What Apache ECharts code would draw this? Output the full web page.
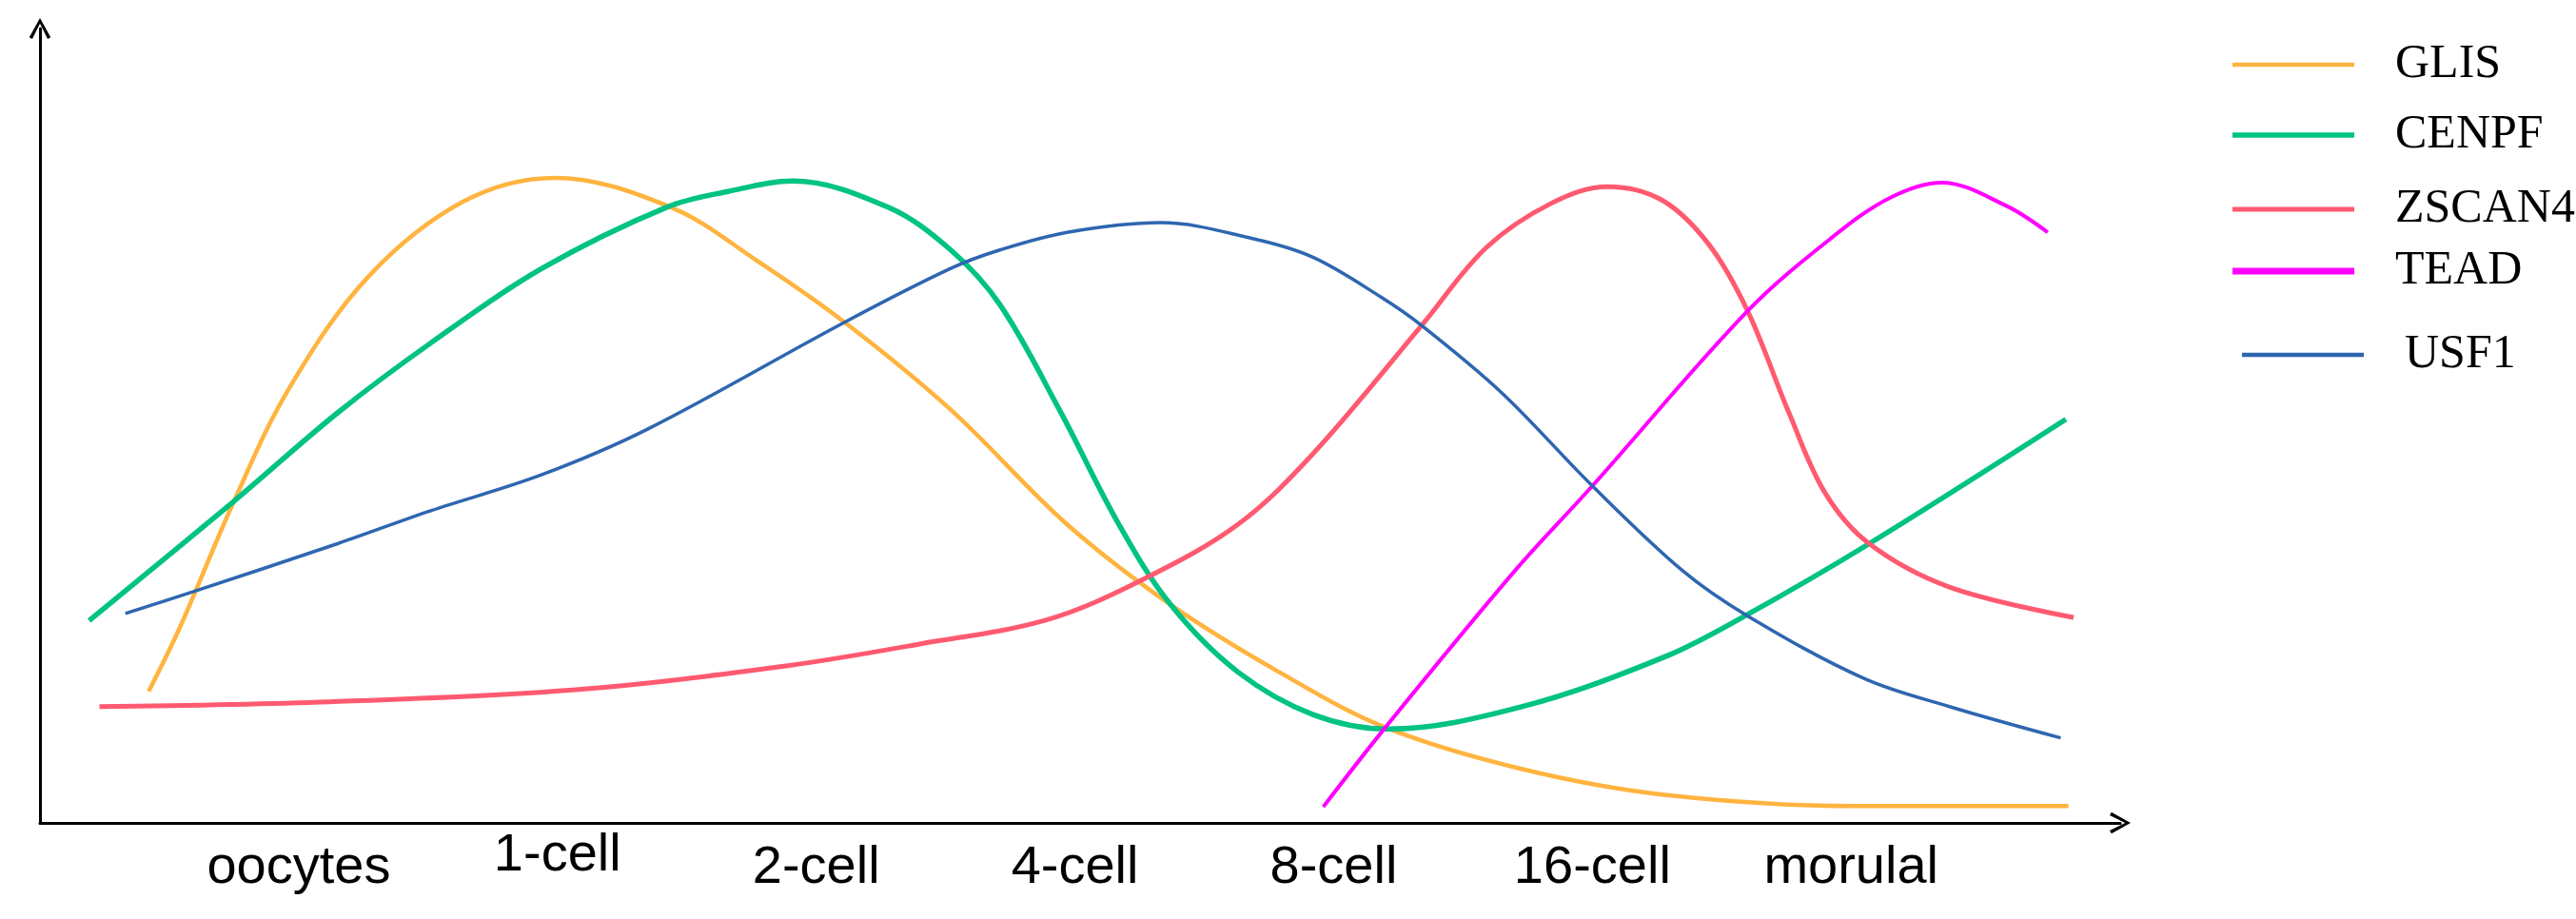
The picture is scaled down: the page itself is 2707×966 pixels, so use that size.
<!DOCTYPE html>
<html>
<head>
<meta charset="utf-8">
<script src="https://cdn.jsdelivr.net/npm/echarts@6/dist/echarts.min.js"></script>
<style>
  html, body { margin: 0; padding: 0; background: #fff; }
  #main { width: 2707px; height: 966px; }
</style>
</head>
<body>
<div id="main"></div>
<script>
// stages along the x axis (index 0..6)
var stages = ['oocytes', '1-cell', '2-cell', '4-cell', '8-cell', '16-cell', 'morulal'];

// [stage position, relative expression level]
var glis = [[-0.58,16.4],[-0.46,24.3],[-0.25,40.1],[-0.04,54.0],[0.27,68.1],[0.64,77.5],[0.99,80.4],[1.44,76.7],[1.77,70.1],[2.11,62.4],[2.52,51.5],[2.97,37.2],[3.37,27.2],[3.80,18.6],[4.20,11.9],[4.73,6.7],[5.28,3.5],[6.02,2.1],[6.84,2.1]];
var cenpf = [[-0.81,25.2],[-0.25,40.1],[0.15,51.1],[0.51,59.8],[0.94,69.1],[1.42,76.7],[1.66,78.7],[1.91,80.0],[2.28,76.7],[2.52,71.4],[2.71,64.6],[2.94,51.5],[3.17,37.2],[3.37,27.2],[3.63,18.8],[3.92,13.5],[4.21,11.7],[4.73,14.5],[5.28,20.7],[5.59,25.8],[6.07,34.8],[6.83,50.3]];
var zscan4 = [[-0.77,14.5],[0.12,15.1],[1.07,16.6],[1.89,19.6],[2.40,22.3],[2.89,25.3],[3.26,30.3],[3.63,37.2],[3.92,46.0],[4.34,62.0],[4.59,71.7],[4.84,77.2],[5.06,79.3],[5.27,77.6],[5.45,72.1],[5.60,63.8],[5.76,51.1],[5.90,41.1],[6.07,34.8],[6.38,29.4],[6.86,25.6]];
var tead = [[3.96,2.0],[4.20,11.9],[4.70,31.4],[5.00,42.0],[5.60,63.8],[5.92,72.8],[6.15,77.9],[6.35,79.8],[6.60,76.9],[6.76,73.6]];
var usf1 = [[-0.67,26.1],[-0.41,28.8],[0.15,34.8],[0.51,38.9],[0.94,43.4],[1.35,49.1],[2.11,62.4],[2.52,69.1],[2.71,71.4],[2.97,73.6],[3.33,74.8],[3.69,72.8],[3.92,70.5],[4.18,65.6],[4.34,62.0],[4.65,53.6],[5.00,42.0],[5.35,31.4],[5.60,25.8],[6.05,18.0],[6.38,14.5],[6.81,10.6]];

var geneNames = ['GLIS', 'CENPF', 'ZSCAN4', 'TEAD', 'USF1'];
var geneColors = ['#FFB43F', '#00C383', '#FF5A70', '#FF00FF', '#2E66B0'];
var geneWidths = [4.5, 5.5, 5, 4, 3.5];
var geneData = [glis, cenpf, zscan4, tead, usf1];

var chart = echarts.init(document.getElementById('main'));

// open chevron arrow head for the axes
var arrowPath = 'path://M0,9 L5,0 L10,9 L8.6,9.8 L5,2.6 L1.4,9.8 Z';

var legendTops = [43, 117, 195, 260, 348];
var legendLefts = [2346, 2346, 2346, 2346, 2356];
var legendIconH = [4.5, 5.5, 5, 7, 4.5];

var legends = geneNames.map(function (name, i) {
  return {
    data: [name],
    left: legendLefts[i],
    top: legendTops[i],
    padding: 0,
    icon: 'rect',
    itemWidth: 128,
    itemHeight: legendIconH[i],
    selectedMode: false,
    textStyle: {
      fontFamily: 'Liberation Serif',
      fontSize: 50,
      lineHeight: 50,
      color: '#000',
      padding: [0, 0, 0, 38]
    }
  };
});

var series = geneNames.map(function (name, i) {
  return {
    name: name,
    type: 'line',
    data: geneData[i],
    smooth: 0.35,
    showSymbol: false,
    symbol: 'none',
    color: geneColors[i],
    lineStyle: { color: geneColors[i], width: geneWidths[i] }
  };
});

var labelFont = { fontFamily: 'Liberation Sans', fontSize: 56, color: '#000' };

var option = {
  animation: false,
  backgroundColor: '#fff',
  legend: legends,
  grid: { left: 42, right: 479, top: 30, bottom: 101, containLabel: false },
  xAxis: {
    type: 'value',
    min: -1,
    max: 7.04,
    interval: 1,
    splitLine: { show: false },
    axisTick: { show: false },
    axisLine: {
      show: true,
      onZero: false,
      symbol: ['none', arrowPath],
      symbolSize: [23, 22],
      lineStyle: { color: '#000', width: 3 }
    },
    axisLabel: {
      margin: 20,
      fontFamily: 'Liberation Sans',
      fontSize: 56,
      color: '#000',
      formatter: function (v) {
        var k = Math.round(v);
        if (k < 0 || k >= stages.length) return '';
        // "1-cell" sits a little higher in the original
        return k === 1 ? '{hi|' + stages[k] + '}' : '{n|' + stages[k] + '}';
      },
      rich: {
        n: Object.assign({ lineHeight: 56 }, labelFont),
        hi: Object.assign({ lineHeight: 30 }, labelFont)
      }
    }
  },
  yAxis: {
    type: 'value',
    min: 0,
    max: 99,
    splitLine: { show: false },
    axisTick: { show: false },
    axisLabel: { show: false },
    axisLine: {
      show: true,
      onZero: false,
      symbol: ['none', arrowPath],
      symbolSize: [23, 22],
      lineStyle: { color: '#000', width: 3 }
    }
  },
  series: series
};

chart.setOption(option);
window.onresize = function () { chart.resize(); };
</script>
</body>
</html>
